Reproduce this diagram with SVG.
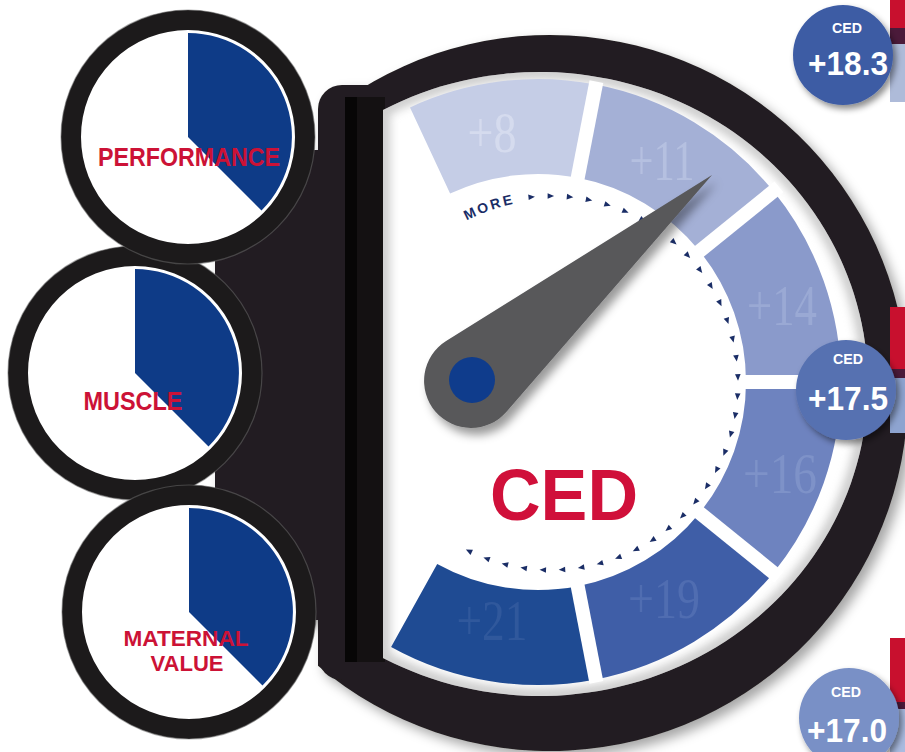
<svg xmlns="http://www.w3.org/2000/svg" xmlns:xlink="http://www.w3.org/1999/xlink" width="905" height="752" viewBox="0 0 905 752">
<defs>
<style>
.lbl{font-family:"Liberation Sans",Arial,sans-serif;font-weight:bold;fill:#cc1236;text-anchor:middle;font-size:25px}
.lbl2{font-family:"Liberation Sans",Arial,sans-serif;font-weight:bold;fill:#cc1236;text-anchor:middle;font-size:22px}
.num{font-family:"Liberation Serif","Times New Roman",serif;font-size:56px;text-anchor:middle}
.bt{font-family:"Liberation Sans",Arial,sans-serif;font-weight:bold;fill:#fff;text-anchor:middle}
.ring{fill:none;stroke:#1c1a1b;stroke-width:20}
.ringedge{fill:none;stroke:#6a6a6a;stroke-width:1.2;opacity:0.55}
.pie{fill:#0e3b87}
.bez{fill:#231f20}
.gap{stroke:#fff;stroke-width:14;stroke-linecap:butt}
</style>
<filter id="sh" x="-10%" y="-10%" width="125%" height="125%"><feDropShadow dx="6" dy="6" stdDeviation="6" flood-color="#000" flood-opacity="0.35"/></filter>
<filter id="nsh" x="-20%" y="-20%" width="150%" height="150%"><feDropShadow dx="5" dy="7" stdDeviation="5" flood-color="#000" flood-opacity="0.4"/></filter>
<filter id="bsh" x="-20%" y="-20%" width="150%" height="150%"><feDropShadow dx="3" dy="4" stdDeviation="3" flood-color="#000" flood-opacity="0.45"/></filter>
<filter id="blur" x="-5%" y="-5%" width="110%" height="110%"><feGaussianBlur stdDeviation="5"/></filter>
<clipPath id="faceClip"><path d="M383,110 A328,312 0 1,1 383,658 Z"/></clipPath>
<polygon id="tk" points="3.5,0 -3,-2.8 -3,2.8" fill="#1a2d66"/>
<path id="morePath" d="M446,233.1 A183,183 0 0,1 535,200.7" fill="none"/>
</defs>
<rect width="905" height="752" fill="#fff"/>

<g id="bezel" filter="url(#sh)">
  <path class="bez" d="M318,120.3 A358,358 0 1,1 318,665.7 Z"/>
  <rect class="bez" x="318" y="85" width="260" height="595" rx="24"/>
  <rect class="bez" x="215" y="150" width="115" height="470"/>
</g>
<rect x="345" y="97" width="40" height="565" fill="#141112"/>
<rect x="345" y="97" width="12" height="565" fill="#070606"/>

<g id="face">
  <path d="M383,110 A328,312 0 1,1 383,658 Z" fill="#fff"/>
  <g clip-path="url(#faceClip)">
    <path d="M383,110 A328,312 0 1,1 383,658 Z" fill="none" stroke="#9a9a9a" stroke-width="14" filter="url(#blur)" opacity="0.5"/>
  </g>
</g>

<g id="segments">
  <g id="seg-8">
    <path d="M450.1,193.5 L410,107.4 A303,303 0 0,1 595.8,84.6 L577.7,177.8 A208,208 0 0,0 450.1,193.5 Z" fill="#c5cde6"/>
    <text class="num" x="492" y="152" textLength="49" lengthAdjust="spacingAndGlyphs" fill="#d5dbee">+8</text>
  </g>
  <g id="seg-11">
    <path d="M577.7,177.8 L595.8,84.6 A303,303 0 0,1 773.5,191.3 L699.6,251.1 A208,208 0 0,0 577.7,177.8 Z" fill="#a4b0d6"/>
    <text class="num" x="662" y="180" textLength="65" lengthAdjust="spacingAndGlyphs" fill="#b5c0e0">+11</text>
  </g>
  <g id="seg-14">
    <path d="M699.6,251.1 L773.5,191.3 A303,303 0 0,1 841,382 L746,382 A208,208 0 0,0 699.6,251.1 Z" fill="#8a9acb"/>
    <text class="num" x="782" y="325" textLength="70" lengthAdjust="spacingAndGlyphs" fill="#9aa9d4">+14</text>
  </g>
  <g id="seg-16">
    <path d="M746,382 L841,382 A303,303 0 0,1 773.5,572.7 L699.6,512.9 A208,208 0 0,0 746,382 Z" fill="#6e83bf"/>
    <text class="num" x="780" y="493" textLength="74" lengthAdjust="spacingAndGlyphs" fill="#7e92c8">+16</text>
  </g>
  <g id="seg-19">
    <path d="M699.6,512.9 L773.5,572.7 A303,303 0 0,1 595.8,679.4 L577.7,586.2 A208,208 0 0,0 699.6,512.9 Z" fill="#3f5ea7"/>
    <text class="num" x="664" y="618" textLength="72" lengthAdjust="spacingAndGlyphs" fill="#506db1">+19</text>
  </g>
  <g id="seg-21">
    <path d="M577.7,586.2 L595.8,679.4 A303,303 0 0,1 391.1,647 L437.2,563.9 A208,208 0 0,0 577.7,586.2 Z" fill="#1f4b93"/>
    <text class="num" x="492" y="640" textLength="71" lengthAdjust="spacingAndGlyphs" fill="#30589c">+21</text>
  </g>
  <g id="gaps">
    <line class="gap" x1="576.2" y1="185.7" x2="596.4" y2="81.6"/>
    <line class="gap" x1="693.4" y1="256.1" x2="778.9" y2="186.9"/>
    <line class="gap" x1="738" y1="382" x2="848" y2="382"/>
    <line class="gap" x1="693.4" y1="507.9" x2="778.9" y2="577.1"/>
    <line class="gap" x1="576.2" y1="578.3" x2="596.4" y2="682.4"/>
  </g>
</g>

<g id="ticks">
  <text font-family="'Liberation Sans',Arial,sans-serif" font-weight="bold" font-size="14" fill="#1a2d66" letter-spacing="2.5"><textPath href="#morePath" startOffset="24">MORE</textPath></text>
  <use href="#tk" transform="rotate(-96 551 383) translate(738 383) rotate(90)"/>
  <use href="#tk" transform="rotate(-90.11 551 383) translate(738 383) rotate(90)"/>
  <use href="#tk" transform="rotate(-84.22 551 383) translate(738 383) rotate(90)"/>
  <use href="#tk" transform="rotate(-78.33 551 383) translate(738 383) rotate(90)"/>
  <use href="#tk" transform="rotate(-72.44 551 383) translate(738 383) rotate(90)"/>
  <use href="#tk" transform="rotate(-66.56 551 383) translate(738 383) rotate(90)"/>
  <use href="#tk" transform="rotate(-60.67 551 383) translate(738 383) rotate(90)"/>
  <use href="#tk" transform="rotate(-54.78 551 383) translate(738 383) rotate(90)"/>
  <use href="#tk" transform="rotate(-48.89 551 383) translate(738 383) rotate(90)"/>
  <use href="#tk" transform="rotate(-43 551 383) translate(738 383) rotate(90)"/>
  <use href="#tk" transform="rotate(-37.11 551 383) translate(738 383) rotate(90)"/>
  <use href="#tk" transform="rotate(-31.22 551 383) translate(738 383) rotate(90)"/>
  <use href="#tk" transform="rotate(-25.33 551 383) translate(738 383) rotate(90)"/>
  <use href="#tk" transform="rotate(-19.44 551 383) translate(738 383) rotate(90)"/>
  <use href="#tk" transform="rotate(-13.56 551 383) translate(738 383) rotate(90)"/>
  <use href="#tk" transform="rotate(-7.67 551 383) translate(738 383) rotate(90)"/>
  <use href="#tk" transform="rotate(-1.78 551 383) translate(738 383) rotate(90)"/>
  <use href="#tk" transform="rotate(4.11 551 383) translate(738 383) rotate(90)"/>
  <use href="#tk" transform="rotate(10 551 383) translate(738 383) rotate(90)"/>
  <use href="#tk" transform="rotate(15.89 551 383) translate(738 383) rotate(90)"/>
  <use href="#tk" transform="rotate(21.78 551 383) translate(738 383) rotate(90)"/>
  <use href="#tk" transform="rotate(27.67 551 383) translate(738 383) rotate(90)"/>
  <use href="#tk" transform="rotate(33.56 551 383) translate(738 383) rotate(90)"/>
  <use href="#tk" transform="rotate(39.44 551 383) translate(738 383) rotate(90)"/>
  <use href="#tk" transform="rotate(45.33 551 383) translate(738 383) rotate(90)"/>
  <use href="#tk" transform="rotate(51.22 551 383) translate(738 383) rotate(90)"/>
  <use href="#tk" transform="rotate(57.11 551 383) translate(738 383) rotate(90)"/>
  <use href="#tk" transform="rotate(63 551 383) translate(738 383) rotate(90)"/>
  <use href="#tk" transform="rotate(68.89 551 383) translate(738 383) rotate(90)"/>
  <use href="#tk" transform="rotate(74.78 551 383) translate(738 383) rotate(90)"/>
  <use href="#tk" transform="rotate(80.67 551 383) translate(738 383) rotate(90)"/>
  <use href="#tk" transform="rotate(86.56 551 383) translate(738 383) rotate(90)"/>
  <use href="#tk" transform="rotate(92.44 551 383) translate(738 383) rotate(90)"/>
  <use href="#tk" transform="rotate(98.33 551 383) translate(738 383) rotate(90)"/>
  <use href="#tk" transform="rotate(104.22 551 383) translate(738 383) rotate(90)"/>
  <use href="#tk" transform="rotate(110.11 551 383) translate(738 383) rotate(90)"/>
  <use href="#tk" transform="rotate(116 551 383) translate(738 383) rotate(90)"/>
</g>

<g id="ced-title">
  <text x="564" y="520" font-family="'Liberation Sans',Arial,sans-serif" font-weight="bold" font-size="72" fill="#d0103a" text-anchor="middle" textLength="148" lengthAdjust="spacingAndGlyphs">CED</text>
</g>

<g id="needle">
  <path d="M712,175 L506.5,411.8 A47,47 0 1,1 446.1,341.1 Z" fill="#58585a" filter="url(#nsh)"/>
  <circle cx="472" cy="380" r="23" fill="#0f3c8c"/>
</g>

<g id="muscle">
  <circle cx="135" cy="373" r="117" fill="#fff"/>
  <path class="pie" d="M135,373 L135,269 A104,104 0 0,1 208.5,446.5 Z"/>
  <circle class="ring" cx="135" cy="373" r="117"/>
  <circle class="ringedge" cx="135" cy="373" r="127"/>
  <text class="lbl" x="133" y="410" textLength="99" lengthAdjust="spacingAndGlyphs">MUSCLE</text>
</g>
<g id="performance">
  <circle cx="188" cy="137" r="117" fill="#fff"/>
  <path class="pie" d="M188,137 L188,33 A104,104 0 0,1 261.5,210.5 Z"/>
  <circle class="ring" cx="188" cy="137" r="117"/>
  <circle class="ringedge" cx="188" cy="137" r="127"/>
  <text class="lbl" x="189" y="166" textLength="182" lengthAdjust="spacingAndGlyphs">PERFORMANCE</text>
</g>
<g id="maternal">
  <circle cx="189" cy="612" r="117" fill="#fff"/>
  <path class="pie" d="M189,612 L189,508 A104,104 0 0,1 262.5,685.5 Z"/>
  <circle class="ring" cx="189" cy="612" r="117"/>
  <circle class="ringedge" cx="189" cy="612" r="127"/>
  <text class="lbl2" x="186" y="646" textLength="125" lengthAdjust="spacingAndGlyphs">MATERNAL</text>
  <text class="lbl2" x="187" y="671" textLength="73" lengthAdjust="spacingAndGlyphs">VALUE</text>
</g>

<g id="tabs">
  <rect x="890" y="0" width="15" height="28" fill="#c8102e"/>
  <rect x="890" y="28" width="15" height="16" fill="#4b1a3a"/>
  <rect x="890" y="44" width="15" height="58" fill="#aebbd9"/>
  <rect x="890" y="307" width="15" height="62" fill="#c8102e"/>
  <rect x="890" y="369" width="15" height="9" fill="#4b1a3a"/>
  <rect x="890" y="378" width="15" height="55" fill="#8ea4d0"/>
  <rect x="890" y="638" width="15" height="64" fill="#c8102e"/>
  <rect x="890" y="702" width="15" height="7" fill="#4b1a3a"/>
  <rect x="890" y="709" width="15" height="43" fill="#a9bbe0"/>
</g>

<g id="badge-1">
  <circle cx="843" cy="55" r="50" fill="#3e5ca4" filter="url(#bsh)"/>
  <text class="bt" x="847" y="33" font-size="14" textLength="30" lengthAdjust="spacingAndGlyphs">CED</text>
  <text class="bt" x="848" y="75" font-size="34" textLength="80" lengthAdjust="spacingAndGlyphs">+18.3</text>
</g>
<g id="badge-2">
  <circle cx="846" cy="390" r="50" fill="#5671b1" filter="url(#bsh)"/>
  <text class="bt" x="848" y="364" font-size="14" textLength="30" lengthAdjust="spacingAndGlyphs">CED</text>
  <text class="bt" x="848" y="410" font-size="34" textLength="80" lengthAdjust="spacingAndGlyphs">+17.5</text>
</g>
<g id="badge-3">
  <circle cx="849" cy="718" r="50" fill="#7990c6" filter="url(#bsh)"/>
  <text class="bt" x="846" y="697" font-size="14" textLength="30" lengthAdjust="spacingAndGlyphs">CED</text>
  <text class="bt" x="847" y="742" font-size="34" textLength="80" lengthAdjust="spacingAndGlyphs">+17.0</text>
</g>
</svg>
